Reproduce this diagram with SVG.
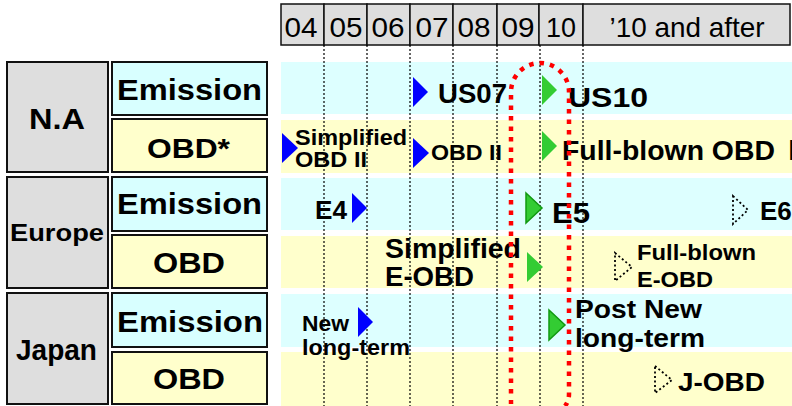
<svg xmlns="http://www.w3.org/2000/svg" width="792" height="406" viewBox="0 0 792 406">
<style>
text{font-family:"Liberation Sans",Arial,sans-serif;fill:#000}
.b{font-weight:bold}
.hd{font-size:28px;text-anchor:middle}
.lab{font-weight:bold;text-anchor:middle}
.cell{fill:#DEDEDE;stroke:#111;stroke-width:1.5}
.reg{fill:#DEDEDE;stroke:#111;stroke-width:2}
.cy{fill:#DDFFFF}
.ye{fill:#FFFFCC}
.cyb{fill:#D8FFFF;stroke:#111;stroke-width:2}
.yeb{fill:#FFFFCC;stroke:#111;stroke-width:2}
.grid{stroke:#000;stroke-width:1.2;stroke-dasharray:2 2}
.blue{fill:#0000FF}
.green{fill:#33CC33}
.greeno{fill:#33CC33;stroke:#119911;stroke-width:1.5}
.dot{fill:none;stroke:#000;stroke-width:1.8;stroke-dasharray:2 2.5}
.red{fill:none;stroke:#FF0000;stroke-width:4.5;stroke-dasharray:4.5 6}
</style>

<g id="bands">
<rect class="cy" x="281" y="62" width="511" height="52"/>
<rect class="ye" x="281" y="120" width="511" height="53"/>
<rect class="cy" x="281" y="178" width="511" height="52"/>
<rect class="ye" x="281" y="236" width="511" height="52"/>
<rect class="cy" x="281" y="294" width="511" height="53"/>
<rect class="ye" x="281" y="352" width="511" height="54"/>
</g>

<g id="header">
<rect class="cell" x="281" y="4" width="43" height="41"/>
<rect class="cell" x="324" y="4" width="43" height="41"/>
<rect class="cell" x="367" y="4" width="43" height="41"/>
<rect class="cell" x="410" y="4" width="43" height="41"/>
<rect class="cell" x="453" y="4" width="44" height="41"/>
<rect class="cell" x="497" y="4" width="42" height="41"/>
<rect class="cell" x="539" y="4" width="44" height="41"/>
<rect class="cell" x="583" y="4" width="207" height="41"/>
<text class="hd" x="301" y="37" textLength="33" lengthAdjust="spacingAndGlyphs">04</text>
<text class="hd" x="346" y="37" textLength="33" lengthAdjust="spacingAndGlyphs">05</text>
<text class="hd" x="388" y="37" textLength="33" lengthAdjust="spacingAndGlyphs">06</text>
<text class="hd" x="432" y="37" textLength="33" lengthAdjust="spacingAndGlyphs">07</text>
<text class="hd" x="474" y="37" textLength="33" lengthAdjust="spacingAndGlyphs">08</text>
<text class="hd" x="518" y="37" textLength="33" lengthAdjust="spacingAndGlyphs">09</text>
<text class="hd" x="561" y="37" textLength="30" lengthAdjust="spacingAndGlyphs">10</text>
<text class="hd" x="687" y="37" textLength="155" lengthAdjust="spacingAndGlyphs">’10 and after</text>
</g>

<g id="gridlines">
<line class="grid" x1="324" y1="45" x2="324" y2="406"/>
<line class="grid" x1="367" y1="45" x2="367" y2="406"/>
<line class="grid" x1="410" y1="45" x2="410" y2="406"/>
<line class="grid" x1="453" y1="45" x2="453" y2="406"/>
<line class="grid" x1="497" y1="45" x2="497" y2="406"/>
<line class="grid" x1="540" y1="45" x2="540" y2="406"/>
<line class="grid" x1="583" y1="45" x2="583" y2="406"/>
</g>

<g id="na">
<rect class="reg" x="7" y="62" width="101" height="110"/>
<text class="lab" x="57" y="129" font-size="30" textLength="56" lengthAdjust="spacingAndGlyphs">N.A</text>
<g id="na-emission">
<rect class="cyb" x="112" y="62" width="155" height="53"/>
<text class="lab" x="189.5" y="100" font-size="29" textLength="145" lengthAdjust="spacingAndGlyphs">Emission</text>
</g>
<g id="na-obd">
<rect class="yeb" x="112" y="119" width="155" height="53"/>
<text class="lab" x="188.5" y="158" font-size="28" textLength="83" lengthAdjust="spacingAndGlyphs">OBD*</text>
</g>
</g>

<g id="europe">
<rect class="reg" x="7" y="177" width="101" height="111"/>
<text class="lab" x="57" y="241" font-size="23" textLength="94" lengthAdjust="spacingAndGlyphs">Europe</text>
<g id="eu-emission">
<rect class="cyb" x="112" y="177" width="155" height="54"/>
<text class="lab" x="189.5" y="214" font-size="29" textLength="145" lengthAdjust="spacingAndGlyphs">Emission</text>
</g>
<g id="eu-obd">
<rect class="yeb" x="112" y="235" width="155" height="53"/>
<text class="lab" x="189" y="273" font-size="29" textLength="72" lengthAdjust="spacingAndGlyphs">OBD</text>
</g>
</g>

<g id="japan">
<rect class="reg" x="7" y="293" width="101" height="111"/>
<text class="lab" x="56.5" y="360" font-size="29" textLength="81" lengthAdjust="spacingAndGlyphs">Japan</text>
<g id="jp-emission">
<rect class="cyb" x="112" y="293" width="155" height="54"/>
<text class="lab" x="190" y="332" font-size="29" textLength="146" lengthAdjust="spacingAndGlyphs">Emission</text>
</g>
<g id="jp-obd">
<rect class="yeb" x="112" y="352" width="155" height="52"/>
<text class="lab" x="189" y="389" font-size="29" textLength="72" lengthAdjust="spacingAndGlyphs">OBD</text>
</g>
</g>

<g id="milestones">
<g id="us07">
<polygon class="blue" points="413,77 428,92 413,107"/>
<text class="b" x="438" y="103" font-size="27" textLength="69" lengthAdjust="spacingAndGlyphs">US07</text>
</g>
<g id="us10">
<polygon class="green" points="542,75 557,90 542,105"/>
<text class="b" x="568" y="107" font-size="28" textLength="80" lengthAdjust="spacingAndGlyphs">US10</text>
</g>
<g id="simplified-obd2">
<polygon class="blue" points="282,133 298,148 282,163"/>
<text class="b" font-size="22"><tspan x="295" y="145" textLength="112" lengthAdjust="spacingAndGlyphs">Simplified</tspan><tspan x="295" y="167" textLength="72" lengthAdjust="spacingAndGlyphs">OBD II</tspan></text>
</g>
<g id="obd2">
<polygon class="blue" points="413,138 429,153 413,168"/>
<text class="b" x="431" y="160" font-size="22" textLength="71" lengthAdjust="spacingAndGlyphs">OBD II</text>
</g>
<g id="fullblown-obd2">
<polygon class="green" points="542,131 557,146 542,161"/>
<text class="b" font-size="27" y="160"><tspan x="562" textLength="213" lengthAdjust="spacingAndGlyphs">Full-blown OBD</tspan> <tspan x="782" font-weight="normal" font-family="'Noto Sans CJK JP',sans-serif">Ⅱ</tspan></text>
</g>
<g id="e4">
<polygon class="blue" points="352,193 367,208 352,223"/>
<text class="b" x="315" y="219" font-size="26" textLength="32" lengthAdjust="spacingAndGlyphs">E4</text>
</g>
<g id="e5">
<polygon class="greeno" points="526,193 542,208 526,223"/>
<text class="b" x="552" y="223" font-size="29" textLength="38" lengthAdjust="spacingAndGlyphs">E5</text>
</g>
<g id="e6">
<polygon class="dot" points="733,196 748,210 733,224"/>
<text class="b" x="760" y="220" font-size="26">E6</text>
</g>
<g id="simplified-eobd">
<text class="b" font-size="27"><tspan x="385" y="258" textLength="136" lengthAdjust="spacingAndGlyphs">Simplified</tspan><tspan x="385" y="286" textLength="89" lengthAdjust="spacingAndGlyphs">E-OBD</tspan></text>
<polygon class="green" points="527,252 543,267 527,282"/>
</g>
<g id="fullblown-eobd">
<polygon class="dot" points="615,253 632,267 615,281"/>
<text class="b" font-size="22"><tspan x="637" y="260" textLength="119" lengthAdjust="spacingAndGlyphs">Full-blown</tspan><tspan x="637" y="287" textLength="76" lengthAdjust="spacingAndGlyphs">E-OBD</tspan></text>
</g>
<g id="new-longterm">
<text class="b" font-size="22"><tspan x="302" y="331" textLength="47" lengthAdjust="spacingAndGlyphs">New</tspan><tspan x="302" y="355" textLength="108" lengthAdjust="spacingAndGlyphs">long-term</tspan></text>
<polygon class="blue" points="358,307 373,322 358,337"/>
</g>
<g id="post-new-longterm">
<polygon class="greeno" points="549,310 565,325 549,340"/>
<text class="b" font-size="26"><tspan x="575" y="318" textLength="127" lengthAdjust="spacingAndGlyphs">Post New</tspan><tspan x="575" y="347" textLength="130" lengthAdjust="spacingAndGlyphs">long-term</tspan></text>
</g>
<g id="j-obd">
<polygon class="dot" points="655,366 672,380 655,393"/>
<text class="b" x="678" y="391" font-size="26" textLength="87" lengthAdjust="spacingAndGlyphs">J-OBD</text>
</g>
</g>

<g id="highlight">
<path class="red" d="M511,404 Q511,400 511,394 V92 A29,29 0 0 1 569,92 V394 Q569,401 565,406"/>
</g>
</svg>
